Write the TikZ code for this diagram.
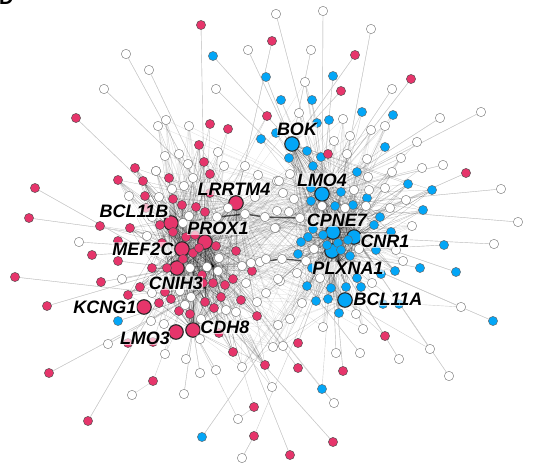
\documentclass[tikz,border=0pt]{standalone}
\usepackage{fontspec}
\setmainfont{Liberation Sans}
\definecolor{nred}{HTML}{E6356B}
\definecolor{nblue}{HTML}{03A6F7}
\pgfdeclarelayer{edges}
\pgfsetlayers{edges,main}
\tikzset{
 x=1pt,y=-1pt,
 rn/.style={circle,draw=black!70,line width=.45pt,fill=nred,minimum size=9.2pt,inner sep=0pt},
 bn/.style={circle,draw=black!60,line width=.45pt,fill=nblue,minimum size=9.2pt,inner sep=0pt},
 wn/.style={circle,draw=black!55,line width=.4pt,fill=white,minimum size=9.4pt,inner sep=0pt},
 hr/.style={circle,draw=black!85,line width=1.1pt,fill=nred,minimum size=14.5pt,inner sep=0pt},
 hb/.style={circle,draw=black!85,line width=1.1pt,fill=nblue,minimum size=14.5pt,inner sep=0pt},
 oe/.style={draw=black!20,line width=.4pt},
 ie/.style={draw=black,opacity=.16,line width=.2pt},
 de/.style={draw=black,opacity=.3,line width=.22pt},
 band/.style={draw=black,opacity=.65,line width=1.4pt},
 gene/.style={fill=white,fill opacity=.65,text opacity=1,inner sep=.3pt,font=\fontsize{18}{20}\selectfont\bfseries\itshape},
}
\begin{document}
\begin{tikzpicture}
\useasboundingbox (0,0) rectangle (557,476);
% hubs
\node[hr] (LR) at (236,203) {};
\node[hr] (BC) at (171,223) {};
\node[hr] (PR) at (205,242) {};
\node[hr] (ME) at (182,249) {};
\node[hr] (CN) at (177,268) {};
\node[hr] (KC) at (144,307) {};
\node[hr] (LM) at (176,332) {};
\node[hr] (CD) at (193,330) {};
\node[hb] (BO) at (292,144) {};
\node[hb] (LO) at (322,194) {};
\node[hb] (CP) at (333,232) {};
\node[hb] (NR) at (354,237) {};
\node[hb] (PL) at (332,251) {};
\node[hb] (BA) at (345,300) {};
% dense core points of the two clusters
\coordinate (CLa) at (213,266);
\coordinate (CLb) at (205,288);
\coordinate (CRa) at (345,222);
\coordinate (CRb) at (338,262);
% named helpers
\node[wn] (W191) at (191,297) {};
\node[wn] (W228) at (228,208) {};
\node[wn] (W242) at (242,266) {};
\node[wn] (W322) at (322,206) {};
\node[wn] (W297) at (297,273) {};
\node[wn] (W217) at (217,217) {};
\node[wn] (W245) at (245,214) {};
\node[wn] (W265) at (265,217) {};
\node[wn] (W300) at (300,218) {};
\node[wn] (W260) at (260,262) {};
\node[wn] (W282) at (282,259) {};
\node[wn] (W306) at (306,261) {};
\node[rn] (R153) at (153,381) {};
\node[rn] (R254) at (254,436) {};
\node[rn] (R407) at (254,407) {};
\node[bn] (B322) at (322,389) {};
% inner red
\foreach \x/\y [count=\i] in {199/145,204/162,210/174,135/168,118/180,143/181,169/178,145/196,173/199,182/205,196/207,205/212,130/228,160/225,173/232,186/237,236/251,216/246,193/253,199/248,183/259,152/268,167/268,202/275,213/283,225/285,233/279,252/271,241/300,214/308,221/297,205/302,190/314,179/311,171/299,159/303,165/292,140/287,128/295,257/316,265/365,233/352,219/333,210/124,228/129,267/116}
 \node[rn] (ir\i) at (\x,\y) {};
% inner blue
\foreach \x/\y [count=\i] in {307/151,289/158,321/157,313/166,357/172,408/184,432/190,311/188,341/192,367/198,311/201,335/206,353/205,423/210,380/217,374/225,313/229,308/237,323/235,391/232,301/242,298/254,327/245,338/243,341/250,350/256,376/250,312/268,357/278,381/274,395/271,307/286,331/288,346/287,361/287,316/301,328/299,339/313,385/147,329/120,276/133,261/139,312/100,281/100,362/112,393/115,348/240}
 \node[bn] (ib\i) at (\x,\y) {};
% white, left group
\foreach \x/\y [count=\i] in {218/152,179/154,165/156,188/164,224/166,245/166,156/171,193/178,184/186,172/189,129/196,159/197,189/216,152/217,183/223,147/236,219/258,190/268,207/267,218/271,152/293,180/291,185/305,201/319,226/310,236/312,151/321,164/324,200/339,166/120,158/126,189/126}
 \node[wn] (wl\i) at (\x,\y) {};
% white, right group
\foreach \x/\y [count=\i] in {343/119,385/126,371/130,350/136,334/141,347/154,401/158,367/159,392/172,368/177,354/190,369/190,385/188,406/200,390/208,366/206,345/208,412/226,314/249,359/249,396/250,403/261,320/278,372/283,302/303,356/314,323/327,363/329,299/113,305/82}
 \node[wn] (wr\i) at (\x,\y) {};
% white, middle group
\foreach \x/\y [count=\i] in {258/175,277/181,255/197,290/174,279/181,283/193,294/199,277/211,289/212,276/228,251/263,266/259,246/283,257/302,266/293,280/281,278/325,290/319,283/346,273/347,242/367,278/279,275/228}
 \node[wn] (wm\i) at (\x,\y) {};
% outer nodes x/y/style/target/target
\foreach \x/\y/\s/\p/\q [count=\i] in {
 276/14/wn/CP/CP,323/11/wn/LO/LO,371/29/wn/CP/CP,311/50/wn/BO/BO,392/89/wn/LO/LO,481/112/wn/LO/LO,440/118/wn/LO/LO,417/142/wn/LO/CP,443/165/wn/LO/LO,422/168/wn/LO/CP,501/189/wn/W322/W322,518/222/wn/W322/W322,494/244/wn/NR/NR,461/307/wn/BA/PL,493/321/bn/PL/PL,456/272/bn/NR/NR,444/245/bn/PL/PL,420/268/bn/PL/PL,430/349/wn/NR/BA,449/376/wn/NR/NR,399/359/wn/PL/PL,385/336/rn/PL/BA,360/353/wn/W297/W297,336/353/wn/PL/PL,343/371/rn/PL/PL,298/343/rn/PL/PL,298/368/rn/PR/PR,334/403/wn/PR/B322,333/442/rn/CN/CN,290/455/rn/PR/PR,272/387/wn/PR/CN,242/458/wn/R254/R254,238/419/wn/R407/CD,202/437/bn/PL/PL,184/394/wn/CD/CD,200/373/wn/CD/CD,216/370/wn/CD/CD,186/359/wn/CD/CD,165/354/wn/LM/PR,88/421/rn/CN/CN,49/373/rn/W191/W191,108/344/wn/W191/W191,118/321/bn/W191/W191,47/306/rn/CN/CN,15/277/rn/W191/W191,79/242/wn/ME/ME,92/255/rn/ME/ME,118/261/rn/CN/CN,101/282/rn/CN/CN,122/279/wn/CN/CN,29/218/rn/PR/PR,100/226/rn/ME/PR,35/188/rn/CN/CN,76/118/rn/PR/PR,104/89/wn/W228/W228,126/54/wn/W242/W242,149/70/wn/W242/W242,201/25/rn/PR/PR,216/89/wn/LO/LO,248/50/wn/BO/BO,213/56/bn/BO/BO,266/77/bn/BO/BO,333/76/bn/LO/LO,272/41/rn/LR/LR,355/55/rn/BO/BO,341/91/rn/BO/BO,411/79/rn/LO/LO,466/173/rn/CP/CP,328/154/rn/LO/CP,156/171/wn/PR/ME,317/123/bn/BO/LO,383/304/bn/BA/PL,399/304/bn/BA/PL,162/243/rn/PR/CN,128/343/rn/CN/LM,153/342/rn/CN/LM,118/241/rn/ME/CN,146/208/rn/BC/PR,210/193/rn/PR/LR,195/235/rn/PR/CLa,203/283/rn/CLa/PR}
{
 \node[\s] (o\i) at (\x,\y) {};
 \begin{pgfonlayer}{edges}
  \draw[oe] (o\i) -- (\p);
  \draw[oe] (o\i) -- (\q);
 \end{pgfonlayer}
}
% outer chains
\node[wn] (c1) at (132,395) {};
\begin{pgfonlayer}{edges}
 \draw[oe] (c1) -- (R153);
 \draw[oe] (R153) -- (PR);
 \draw[oe] (R254) -- (PL);
 \draw[oe] (R407) -- (PR);
 \draw[oe] (B322) -- (PL);
 \draw[oe] (B322) -- (PR);
 % dense bundles
 \foreach \i in {1,...,43} \foreach \h in {PR,BC,ME,CN,CD,LR,CLa,CLb} \draw[de] (ir\i) -- (\h);
 \foreach \i in {44,45,46} \foreach \h in {PR,CN} \draw[oe] (ir\i) -- (\h);
 \foreach \i in {1,...,38,47} \foreach \h in {BO,LO,CP,NR,PL,CRa,CRb} \draw[de] (ib\i) -- (\h);
 \foreach \i in {39,...,46} \foreach \h in {LO,CP} \draw[oe] (ib\i) -- (\h);
 \foreach \i in {1,...,32} \foreach \h in {PR,BC,ME,CN,CD,CLa,CLb,LO} \draw[ie] (wl\i) -- (\h);
 \foreach \i in {1,...,30} \foreach \h in {LO,CP,NR,PL,CRa,CRb,PR} \draw[ie] (wr\i) -- (\h);
 \foreach \i in {1,...,23} \foreach \h in {PR,CN,CD,LR,CLa,LO,CP,PL,BA,CRa} \draw[ie] (wm\i) -- (\h);
 \foreach \h in {PR,BC,ME,CN,LR,CLa,CRa,LO,CP,NR,PL,BA} {
  \draw[ie] (W191) -- (\h); \draw[ie] (W228) -- (\h); \draw[ie] (W242) -- (\h);
  \draw[ie] (W322) -- (\h); \draw[ie] (W297) -- (\h); \draw[ie] (W217) -- (\h);
  \draw[ie] (W245) -- (\h); \draw[ie] (W265) -- (\h); \draw[ie] (W300) -- (\h);
  \draw[ie] (W260) -- (\h); \draw[ie] (W282) -- (\h); \draw[ie] (W306) -- (\h);
 }
 \draw[band] (W217) -- (W245);
 \draw[band] (W245) -- (W265);
 \draw[band] (W265) -- (W300);
 \draw[band] (W242) -- (W260);
 \draw[band] (W260) -- (W282);
 \draw[band] (W282) -- (W306);
\end{pgfonlayer}
% labels
\node[font=\fontsize{20}{22}\selectfont\bfseries,anchor=base west,inner sep=0pt] (panel) at (-1,5) {D};
\node[gene] (tLR) at (234,189) {LRRTM4};
\node[gene] (tBC) at (134,211) {BCL11B};
\node[gene] (tPR) at (218,228) {PROX1};
\node[gene] (tME) at (143,249) {MEF2C};
\node[gene] (tCN) at (176,283) {CNIH3};
\node[gene] (tKC) at (105,307) {KCNG1};
\node[gene] (tLM) at (145,338) {LMO3};
\node[gene] (tCD) at (225,327) {CDH8};
\node[gene] (tBO) at (297,129) {BOK};
\node[gene] (tLO) at (322,180) {LMO4};
\node[gene] (tCP) at (337,220) {CPNE7};
\node[gene] (tNR) at (385,241) {CNR1};
\node[gene] (tPL) at (348,268) {PLXNA1};
\node[gene] (tBA) at (388,299) {BCL11A};
\end{tikzpicture}
\end{document}
